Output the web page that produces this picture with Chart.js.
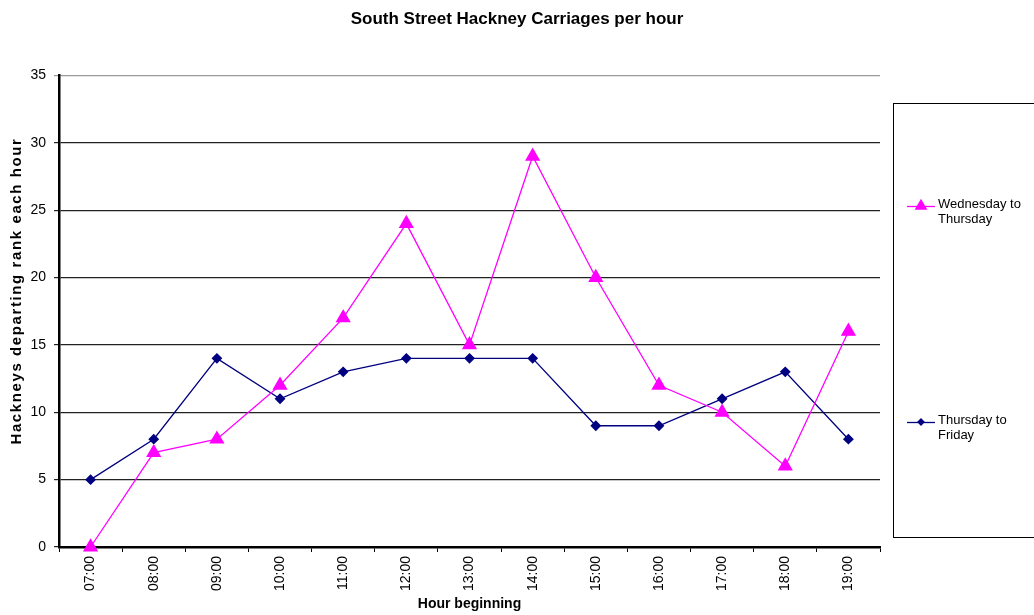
<!DOCTYPE html>
<html>
<head>
<meta charset="utf-8">
<script src="https://cdn.jsdelivr.net/npm/chart.js@4/dist/chart.umd.min.js"></script>
<style>
  html, body { margin: 0; padding: 0; background: #fff; }
  #wrap { width: 1034px; height: 615px; }
</style>
</head>
<body>
<div id="wrap"><canvas id="hackneyChart" width="1034" height="615"></canvas></div>
<script>
// Hours along the x axis
const hours = ['07:00', '08:00', '09:00', '10:00', '11:00', '12:00', '13:00',
               '14:00', '15:00', '16:00', '17:00', '18:00', '19:00'];

// Hackneys departing per hour
const wedToThu = [0, 7, 8, 12, 17, 24, 15, 29, 20, 12, 10, 6, 16];
const thuToFri = [5, 8, 14, 11, 13, 14, 14, 14, 9, 9, 11, 13, 8];

const seriesNames = ['Wednesday to Thursday', 'Thursday to Friday'];

const FONT = 'Arial, "Liberation Sans", Helvetica, sans-serif';

/**
 * Boxed legend on the right, drawn like the old spreadsheet one,
 * plus the loosely spaced y axis title
 */
const boxLegend = {
    id: 'boxLegend',
    afterDraw(chart) {
        const ctx = chart.ctx;
        ctx.save();
        ctx.strokeStyle = '#000';
        ctx.lineWidth = 1;
        ctx.strokeRect(893.5, 103.5, 150, 434);

        const entries = [
            { y: 206, lines: ['Wednesday to', 'Thursday'], ds: chart.data.datasets[0] },
            { y: 422, lines: ['Thursday to', 'Friday'], ds: chart.data.datasets[1] }
        ];
        entries.forEach(e => {
            ctx.strokeStyle = e.ds.borderColor;
            ctx.lineWidth = 1.3;
            ctx.beginPath();
            ctx.moveTo(907, e.y + 0.5);
            ctx.lineTo(935, e.y + 0.5);
            ctx.stroke();
            ctx.fillStyle = e.ds.pointBackgroundColor;
            ctx.strokeStyle = e.ds.pointBorderColor;
            Chart.helpers.drawPoint(ctx, {
                pointStyle: e.ds.pointStyle,
                radius: e.ds.pointRadius - 1.5,
                borderWidth: 1,
                rotation: 0
            }, 921, e.y);
            ctx.fillStyle = '#000';
            ctx.font = '13px ' + FONT;
            ctx.textBaseline = 'middle';
            ctx.textAlign = 'left';
            e.lines.forEach((t, i) => ctx.fillText(t, 938, e.y - 2 + i * 15));
        });

        // y axis title
        ctx.translate(17, 291);
        ctx.rotate(-Math.PI / 2);
        ctx.font = 'bold 15px ' + FONT;
        if ('letterSpacing' in ctx) ctx.letterSpacing = '1.6px';
        ctx.fillStyle = '#000';
        ctx.textAlign = 'center';
        ctx.textBaseline = 'middle';
        ctx.fillText('Hackneys departing rank each hour', 0, 0);
        ctx.restore();
    }
};

document.addEventListener('DOMContentLoaded', function() {
    const ctx = document.getElementById('hackneyChart').getContext('2d');
    new Chart(ctx, {
        type: 'line',
        data: {
            labels: hours,
            datasets: [{
                label: seriesNames[0],
                data: wedToThu,
                borderColor: '#ff00ff',
                backgroundColor: '#ff00ff',
                pointBackgroundColor: '#ff00ff',
                pointBorderColor: '#ff00ff',
                pointStyle: 'triangle',
                pointRadius: 7.5,
                borderWidth: 1.3,
                tension: 0,
                clip: false
            }, {
                label: seriesNames[1],
                data: thuToFri,
                borderColor: '#000080',
                backgroundColor: '#000080',
                pointBackgroundColor: '#000080',
                pointBorderColor: '#000080',
                pointStyle: 'rectRot',
                pointRadius: 4.5,
                borderWidth: 1.3,
                tension: 0,
                clip: false
            }]
        },
        options: {
            responsive: false,
            animation: false,
            layout: { padding: 0 },
            plugins: {
                legend: { display: false },
                tooltip: { enabled: false },
                title: {
                    display: true,
                    text: 'South Street Hackney Carriages per hour',
                    color: '#000',
                    font: { family: FONT, size: 17, weight: 'bold' },
                    padding: { top: 9, bottom: 46 }
                }
            },
            scales: {
                x: {
                    offset: true,
                    afterFit: scale => { scale.height = 68; },
                    grid: {
                        offset: true,
                        drawOnChartArea: false,
                        drawTicks: true,
                        tickLength: 5,
                        color: '#000'
                    },
                    border: { display: true, color: '#000', width: 2.5 },
                    ticks: {
                        color: '#000',
                        font: { family: FONT, size: 14 },
                        minRotation: 90,
                        maxRotation: 90,
                        autoSkip: false,
                        padding: 4
                    },
                    title: {
                        display: true,
                        text: 'Hour beginning',
                        color: '#000',
                        font: { family: FONT, size: 14, weight: 'bold' },
                        padding: { top: 2, bottom: 2 }
                    }
                },
                y: {
                    min: 0,
                    max: 35,
                    afterFit: scale => { scale.width = 59; },
                    grid: {
                        color: ctx => ctx.tick && ctx.tick.value === 35 ? '#999' : '#222',
                        lineWidth: 1.2,
                        drawTicks: true,
                        tickLength: 5
                    },
                    border: { display: true, color: '#000', width: 2.5 },
                    ticks: {
                        stepSize: 5,
                        color: '#000',
                        font: { family: FONT, size: 14 },
                        padding: 8
                    },
                    title: { display: false }
                },
                spacer: {
                    type: 'linear',
                    position: 'right',
                    display: true,
                    afterFit: scale => { scale.width = 154; },
                    grid: { display: false, drawTicks: false },
                    border: { display: false },
                    ticks: { display: false }
                }
            }
        },
        plugins: [boxLegend]
    });
});
</script>
</body>
</html>
